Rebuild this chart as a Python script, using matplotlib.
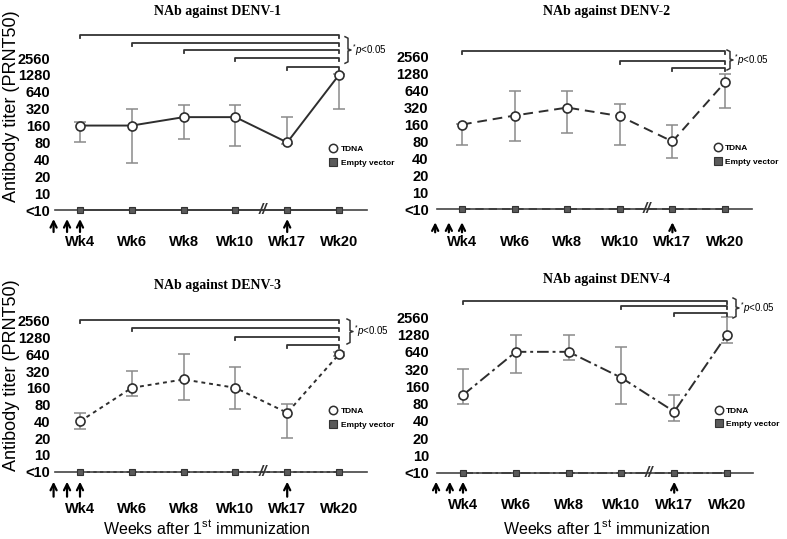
import matplotlib
matplotlib.use('Agg')
import matplotlib.pyplot as plt
from matplotlib.lines import Line2D

plt.rcParams['font.family'] = ['Liberation Sans', 'DejaVu Sans']
plt.rcParams['mathtext.fontset'] = 'custom'
plt.rcParams['mathtext.rm'] = 'Liberation Sans'
plt.rcParams['mathtext.it'] = 'Liberation Sans:italic'

W, H = 787, 539

weeks = ['Wk4', 'Wk6', 'Wk8', 'Wk10', 'Wk17', 'Wk20']
yticks = [5, 10, 20, 40, 80, 160, 320, 640, 1280, 2560]
ytick_labels = ['<10', '10', '20', '40', '80', '160', '320', '640', '1280', '2560']
titles = ['NAb against DENV-1', 'NAb against DENV-2', 'NAb against DENV-3', 'NAb against DENV-4']

# TDNA geometric mean titers with error bar ends
d1_mean = [160, 160, 226, 226, 80, 1280]
d1_low = [80, 34, 93, 69, 75, 320]
d1_high = [182, 320, 372, 372, 226, 1350]

d2_mean = [160, 231, 320, 226, 80, 900]
d2_low = [68, 80, 113, 68, 40, 320]
d2_high = [165, 640, 640, 376, 160, 1280]

d3_mean = [40, 160, 226, 160, 57, 640]
d3_low = [28.6, 114, 96, 68, 20, 600]
d3_high = [57, 320, 640, 384, 81, 690]

d4_mean = [113, 640, 640, 226, 58, 1280]
d4_low = [80, 269, 458, 80, 40, 925]
d4_high = [320, 1280, 1280, 767, 113, 2560]

# empty vector: all below detection limit (<10)
empty = [5, 5, 5, 5, 5, 5]

# comparisons vs Wk20 with p<0.05 (index of starting week)
d1_sig = [0, 1, 2, 3, 4]
d2_sig = [0, 3, 4]
d3_sig = [0, 1, 3, 4]
d4_sig = [0, 3, 4]

means = [d1_mean, d2_mean, d3_mean, d4_mean]
lows = [d1_low, d2_low, d3_low, d4_low]
highs = [d1_high, d2_high, d3_high, d4_high]
sigs = [d1_sig, d2_sig, d3_sig, d4_sig]
styles = ['-', (0, (5, 3)), (0, (2, 2)), (0, (6, 2, 1.5, 2))]

# layout in pixels: left, right, bottom(<10), top(2560), x of Wk4, x of Wk20
boxes = [(55, 367, 210, 58, 80, 339),
         (437, 752, 209.3, 56.7, 462, 725),
         (55, 367, 471.7, 320.7, 80, 339),
         (437, 753, 472.7, 317.3, 463, 727)]
bracket_y = [[35, 43.3, 50, 57.7, 67.3],
             [50.7, 61, 68.3],
             [320, 328.3, 336.7, 345],
             [300.7, 306, 313.3]]
braces = [(345, 36.7, 63.3), (727, 50, 70), (347, 319, 344), (733, 298, 318)]
title_pos = [(217, 12), (607, 12), (217, 285), (607, 280)]
ypads = [3.2, 6, 3.2, 5.5]
xpads = [18, 18.5, 22, 18]
arrow_y = [(9, 22), (13, 23), (10, 25), (9, 20)]

fig = plt.figure(figsize=(W / 100, H / 100), dpi=100)


def fx(x):
    return x / W


def fy(y):
    return 1 - y / H


line_col = '#2e2e2e'
err_col = '#8a8a8a'

for i in range(4):
    left, right, bottom, top, w4, w20 = boxes[i]
    ax = fig.add_axes([fx(left), fy(bottom), (right - left) / W, (bottom - top) / H])
    s = (w20 - w4) / 5
    ax.set_xlim((left - w4) / s, 5 + (right - w20) / s)
    ax.set_yscale('log', base=2)
    ax.set_ylim(5, 2560)
    ax.minorticks_off()
    x = list(range(len(weeks)))

    m = means[i]
    yerr = [[m[k] - lows[i][k] for k in x], [highs[i][k] - m[k] for k in x]]
    ax.errorbar(x, m, yerr=yerr, fmt='none', ecolor=err_col, elinewidth=1.1,
                capsize=4.5, capthick=1.1, clip_on=False, zorder=2)
    ax.plot(x, m, ls=styles[i], color=line_col, lw=1.4, zorder=3, clip_on=False)
    ax.plot(x, m, ls='none', marker='o', ms=6.5, mfc='white', mec=line_col,
            mew=1.2, zorder=4, clip_on=False)
    ax.plot(x, empty, ls=styles[i], color='#3a3a3a', lw=1.2, zorder=3, clip_on=False)
    ax.plot(x, empty, ls='none', marker='s', ms=4.5, mfc='#5a5a5a', mec='#333333',
            mew=0.8, zorder=4, clip_on=False)

    for sp in ['top', 'right', 'left']:
        ax.spines[sp].set_visible(False)
    ax.spines['bottom'].set_color('#444444')
    ax.spines['bottom'].set_linewidth(1.2)

    ax.set_yticks(yticks)
    ax.set_yticklabels(ytick_labels, fontsize=10.5, fontweight='bold')
    ax.set_xticks(x)
    ax.set_xticklabels(weeks, fontsize=10.5, fontweight='bold')
    ax.tick_params(axis='y', length=0, pad=ypads[i])
    ax.tick_params(axis='x', length=0, pad=xpads[i])

    # axis break
    ax.text(3.52, 5, '//', fontsize=11, fontweight='bold', fontstyle='italic',
            ha='center', va='center', color='#333333', clip_on=False, zorder=5)

    # immunization arrows
    tr = ax.get_xaxis_transform()
    a0, a1 = arrow_y[i]
    h = bottom - top
    for ax_x in [-0.51, -0.25, 0, 4]:
        ax.annotate('', xy=(ax_x, -a0 / h), xytext=(ax_x, -a1 / h), xycoords=tr,
                    textcoords=tr,
                    arrowprops=dict(arrowstyle='->', lw=1.6, color='black',
                                    mutation_scale=11, shrinkA=0, shrinkB=0))

    # significance brackets
    drop = 3 / h
    for k, start in enumerate(sigs[i]):
        yb = (bottom - bracket_y[i][k]) / h
        ax.plot([start, start, 5, 5], [yb - drop, yb, yb, yb - drop], transform=tr,
                color='#333333', lw=1.3, clip_on=False, zorder=5)

    bx, bt, bb = braces[i]
    bm = (bt + bb) / 2
    fig.add_artist(Line2D([fx(bx), fx(bx + 3), fx(bx + 3), fx(bx + 6), fx(bx + 3), fx(bx + 3), fx(bx)],
                          [fy(bt), fy(bt + 1.5), fy(bm - 1), fy(bm), fy(bm + 1), fy(bb - 1.5), fy(bb)],
                          color='#333333', lw=1.1))
    fig.text(fx(bx + 7), fy(bm), r'$^{*}\mathit{p}$<0.05', fontsize=7, va='center', ha='left')

    # legend
    handles = [Line2D([], [], ls='none', marker='o', ms=6, mfc='white', mec=line_col, mew=1.1),
               Line2D([], [], ls='none', marker='s', ms=6, mfc='#5a5a5a', mec='#333333', mew=0.8)]
    leg = ax.legend(handles, ['TDNA', 'Empty vector'], loc='center left',
                    bbox_to_anchor=(0.87, 0.355), frameon=False, handlelength=0.8,
                    handletextpad=0.5, labelspacing=0.7, borderaxespad=0,
                    prop={'size': 6, 'weight': 'bold'})

    tx, ty = title_pos[i]
    fig.text(fx(tx), fy(ty), titles[i], fontsize=10, fontweight='bold',
             family='Liberation Serif', ha='center', va='center')

fig.text(fx(12), fy(106), 'Antibody titer (PRNT50)', fontsize=13, rotation=90,
         ha='center', va='center')
fig.text(fx(12), fy(375), 'Antibody titer (PRNT50)', fontsize=13, rotation=90,
         ha='center', va='center')
fig.text(fx(207), fy(528), r'Weeks after 1$^{\mathrm{st}}$ immunization', fontsize=11.5,
         ha='center', va='center')
fig.text(fx(607), fy(528), r'Weeks after 1$^{\mathrm{st}}$ immunization', fontsize=11.5,
         ha='center', va='center')

fig.savefig('out.png', dpi=100, facecolor='white')
